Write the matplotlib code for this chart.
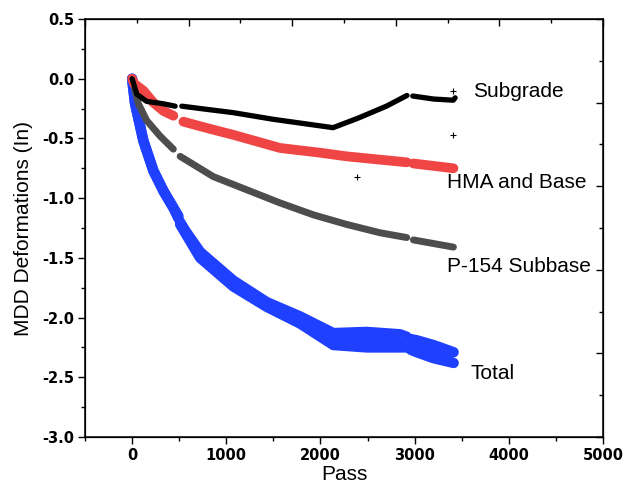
import matplotlib
matplotlib.use("Agg")
import matplotlib.pyplot as plt
import numpy as np
from matplotlib.ticker import MultipleLocator, NullFormatter

plt.rcParams['font.family'] = ['Liberation Sans', 'DejaVu Sans']

nan = np.nan

# Subgrade (black)
sub_pass = [0, 50, 155, 333, 457, nan, 528, 828, 1072, 1500, 2134, 2400, 2700, 2919, nan, 2980, 3200, 3410, 3430]
sub_def = [0, -0.13, -0.19, -0.21, -0.23, nan, -0.23, -0.26, -0.284, -0.34, -0.41, -0.33, -0.23, -0.14, nan, -0.145, -0.17, -0.18, -0.16]

# HMA and Base (red)
hma_pass = [0, 20, 120, 226, 333, 438, nan, 545, 828, 1075, 1571, 2000, 2278, 2916, nan, 2987, 3412]
hma_def = [0, -0.04, -0.10, -0.20, -0.27, -0.31, nan, -0.36, -0.42, -0.47, -0.58, -0.62, -0.65, -0.70, nan, -0.71, -0.75]

# P-154 Subbase (grey)
p154_pass = [0, 67, 155, 297, 438, nan, 510, 863, 1217, 1571, 1925, 2278, 2633, 2916, nan, 2987, 3412]
p154_def = [0, -0.21, -0.35, -0.48, -0.59, nan, -0.65, -0.82, -0.93, -1.04, -1.14, -1.22, -1.29, -1.33, nan, -1.35, -1.41]

# Total (blue), upper and lower edge of the band
tot_pass = [0, 32, 120, 226, 333, 438, 492, nan, 510, 563, 722, 1075, 1429, 1783, 2137, 2491, 2845, 2915, nan, 2960, 3022, 3200, 3414]
tot_hi = [0, -0.21, -0.52, -0.77, -0.94, -1.08, -1.15, nan, -1.20, -1.27, -1.45, -1.69, -1.87, -1.99, -2.13, -2.12, -2.14, -2.16, nan, -2.18, -2.19, -2.23, -2.29]
tot_lo = [0, -0.21, -0.52, -0.77, -0.94, -1.08, -1.17, nan, -1.22, -1.29, -1.50, -1.74, -1.91, -2.05, -2.23, -2.25, -2.25, -2.25, nan, -2.27, -2.29, -2.34, -2.38]

# stray points
stray_k_pass = [3411, 3411, 2385]
stray_k_def = [-0.10, -0.47, -0.82]

labels = ["Subgrade", "HMA and Base", "P-154 Subbase", "Total"]
label_pos = [(3620, -0.105), (3344, -0.87), (3344, -1.575), (3588, -2.47)]

xtick_vals = [0, 1000, 2000, 3000, 4000, 5000]
ytick_vals = [-3.0, -2.5, -2.0, -1.5, -1.0, -0.5, 0.0, 0.5]

fig = plt.figure(figsize=(6.35, 4.86), dpi=100)
ax = fig.add_axes([85 / 635, 1 - 437 / 486, 518 / 635, 418 / 486])

blue = '#2040ff'
ax.fill_between(tot_pass, tot_lo, tot_hi, color=blue, lw=0)
ax.plot(tot_pass, tot_lo, color=blue, lw=7.5, solid_capstyle='round', solid_joinstyle='round')
ax.plot(tot_pass, tot_hi, color=blue, lw=7.5, solid_capstyle='round', solid_joinstyle='round')
ax.plot(p154_pass, p154_def, color='#4d4d4d', lw=5, solid_capstyle='round', solid_joinstyle='round')
ax.plot(hma_pass, hma_def, color='#f04545', lw=7, solid_capstyle='round', solid_joinstyle='round')
ax.plot(sub_pass, sub_def, color='black', lw=3.8, solid_capstyle='round', solid_joinstyle='round')
ax.plot(stray_k_pass, stray_k_def, '+', color='black', ms=4, mew=0.8)

for txt, (x, y) in zip(labels, label_pos):
    ax.text(x, y, txt, fontsize=15, va='center', ha='left')

ax.set_xlim(-500, 5000)
ax.set_ylim(-3.0, 0.5)
ax.xaxis.set_minor_locator(MultipleLocator(500))
ax.yaxis.set_minor_locator(MultipleLocator(0.25))
ax.set_xticks(xtick_vals)
ax.set_yticks(ytick_vals)
tick_font = dict(family='DejaVu Sans', fontsize=10.5, fontweight='bold')
ax.set_xticklabels([f"{v:d}" for v in xtick_vals], **tick_font)
ax.set_yticklabels([f"{v:.1f}" for v in ytick_vals], **tick_font)
ax.tick_params(which='major', direction='out', length=5, width=1, pad=3)
ax.tick_params(which='minor', direction='out', length=3, width=1)
for sp in ax.spines.values():
    sp.set_linewidth(1.1)

ax.set_xlabel("Pass", fontsize=15, labelpad=1.5)
ax.set_ylabel("MDD Deformations (In)", fontsize=15, labelpad=6)

# secondary axes with their own tick spacing (top and right)
axt = ax.twiny()
axt.set_xlim(0, 5)
axt.xaxis.set_major_locator(MultipleLocator(1))
axt.xaxis.set_minor_locator(MultipleLocator(0.5))
axt.xaxis.set_major_formatter(NullFormatter())
axt.tick_params(which='major', direction='in', length=5, width=1)
axt.tick_params(which='minor', direction='in', length=3, width=1)

axr = ax.twinx()
axr.set_ylim(0, 5)
axr.yaxis.set_major_locator(MultipleLocator(1))
axr.yaxis.set_minor_locator(MultipleLocator(0.5))
axr.yaxis.set_major_formatter(NullFormatter())
axr.tick_params(which='major', direction='in', length=5, width=1)
axr.tick_params(which='minor', direction='in', length=3, width=1)

fig.savefig("out.png", dpi=100)
